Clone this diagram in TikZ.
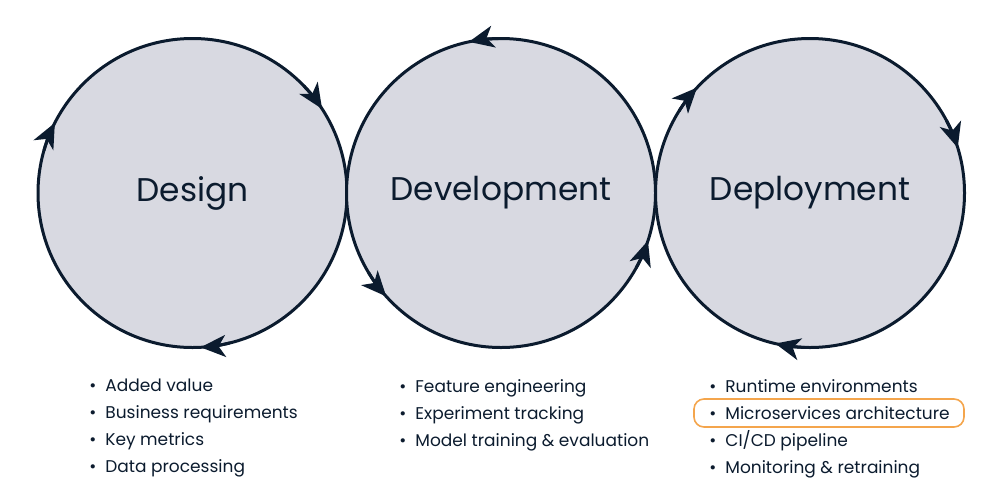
\documentclass[tikz,border=0pt]{standalone}
\usepackage{fontspec}
\setmainfont{Poppins}
\usetikzlibrary{arrows.meta}

\definecolor{navy}{HTML}{0B1B2E}
\definecolor{disc}{HTML}{D8D9E1}
\definecolor{hilite}{HTML}{F4A54C}

\tikzset{
  phase/.style={circle, draw=navy, fill=disc, line width=1.5pt,
    minimum size=154.5pt, inner sep=0pt, text=navy,
    font=\fontsize{16.4}{20}\selectfont},
  flow/.style={draw=navy, line width=1.5pt,
    -{Stealth[length=12.5pt, width=11pt, inset=3.5pt]}},
  items/.style={align=left, anchor=north west, inner sep=0pt, text=navy,
    font=\fontsize{8.5}{13.5}\selectfont},
}
\newcommand\itm[1]{\makebox[8pt][l]{\textbullet}#1}

\begin{document}
\begin{tikzpicture}[x=0.5pt,y=0.5pt]
  \useasboundingbox (0,0) rectangle (1000,500);

  % Circles
  \node[phase] (design) at (192.5,307) {Design};
  \node[phase] (devel) at (501,307) {Development};
  \node[phase] (deploy) at (810,307) {Deployment};

  % Arrowheads, Design and Deployment turn clockwise
  \foreach \a in {153,33,-87}
    \draw[flow] (design.center) ++(\a+11:77.25pt) arc[start angle=\a+11, end angle=\a, radius=77.25pt];
  \foreach \a in {102,222,342}
    \draw[flow] (devel.center) ++(\a-11:77.25pt) arc[start angle=\a-11, end angle=\a, radius=77.25pt];
  \foreach \a in {137,17,-103}
    \draw[flow] (deploy.center) ++(\a+11:77.25pt) arc[start angle=\a+11, end angle=\a, radius=77.25pt];

  % Lists
  \node[items] (designlist) at (89,121) {\itm{Added value}\\ \itm{Business requirements}\\ \itm{Key metrics}\\ \itm{Data processing}};
  \node[items] (devellist) at (399,121) {\itm{Feature engineering}\\ \itm{Experiment tracking}\\ \itm{Model training \& evaluation}};
  \node[items] (deploylist) at (709,121) {\itm{Runtime environments}\\ \itm{Microservices architecture}\\ \itm{CI/CD pipeline}\\ \itm{Monitoring \& retraining}};

  % Highlight
  \draw[hilite, line width=0.8pt, rounded corners=5pt] (694,101) rectangle (964,73);
\end{tikzpicture}
\end{document}
